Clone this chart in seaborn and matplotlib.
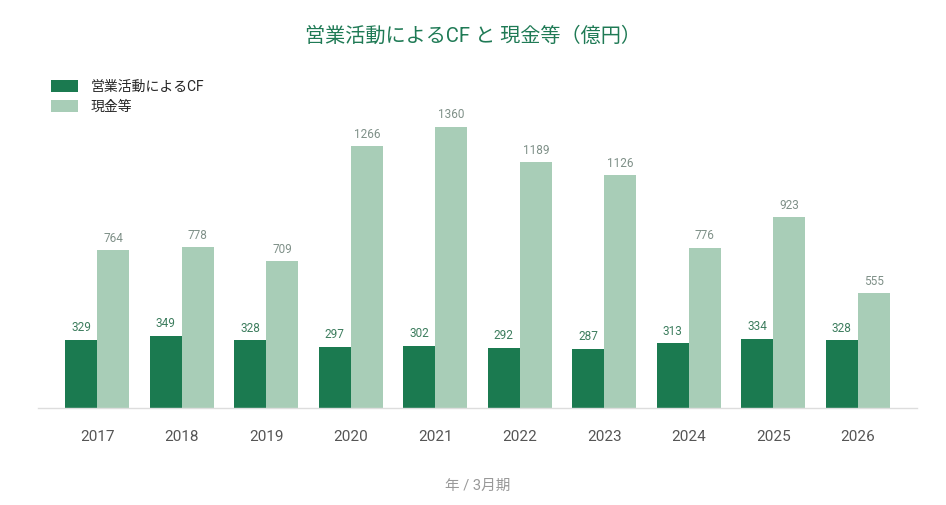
import numpy as np
import pandas as pd
import matplotlib
matplotlib.use("Agg")
import matplotlib.pyplot as plt
import seaborn as sns

years = ["2017", "2018", "2019", "2020", "2021", "2022", "2023", "2024", "2025", "2026"]
cf_values = [329, 349, 328, 297, 302, 292, 287, 313, 334, 328]
cash_values = [764, 778, 709, 1266, 1360, 1189, 1126, 776, 923, 555]
series_names = ["営業活動によるCF", "現金等"]

dark_green = "#1b7a50"
light_green = "#a8cdb7"

sns.set_style("white")
plt.rcParams['font.family'] = ['Roboto', 'Noto Sans CJK JP', 'DejaVu Sans']

df = pd.DataFrame({
    "year": years * 2,
    "value": cf_values + cash_values,
    "series": [series_names[0]] * len(years) + [series_names[1]] * len(years),
})

fig = plt.figure(figsize=(9.46, 5.05), dpi=100)
ax = fig.add_axes([38 / 946, (505 - 408) / 505, (917 - 38) / 946, 308 / 505])

sns.barplot(data=df, x="year", y="value", hue="series", order=years,
            hue_order=series_names, palette=[dark_green, light_green],
            width=0.76, gap=0, saturation=1, linewidth=0, ax=ax, legend=True)

label_colors = ["#3d7d5e", "#7f9088"]
for cont, col in zip(ax.containers, label_colors):
    ax.bar_label(cont, fmt="%d", padding=4, fontsize=8.5, color=col)

ax.set_xlim(-0.7, 9.7)
ax.set_ylim(0, 1490)
ax.set_yticks([])
for s in ["top", "right", "left"]:
    ax.spines[s].set_visible(False)
ax.spines["bottom"].set_color("#dddddd")
ax.spines["bottom"].set_linewidth(1)
ax.tick_params(axis="x", length=0, pad=16, labelsize=11, labelcolor="#555555")
ax.set_ylabel("")
ax.set_xlabel("年 / 3月期", fontsize=10.5, color="#999999", labelpad=25)

leg = ax.legend(loc="upper left", bbox_to_anchor=(45 / 946, 1 - 74 / 505),
                bbox_transform=fig.transFigure, frameon=False, fontsize=10,
                handlelength=2.0, handleheight=0.9, labelspacing=0.45,
                borderaxespad=0, handletextpad=0.9)

fig.text(0.5, 1 - 36 / 505, "営業活動によるCF と 現金等（億円）", ha="center", va="center",
         fontsize=14.5, color="#1f7a55")

fig.savefig("out.png", dpi=100, facecolor="white")
